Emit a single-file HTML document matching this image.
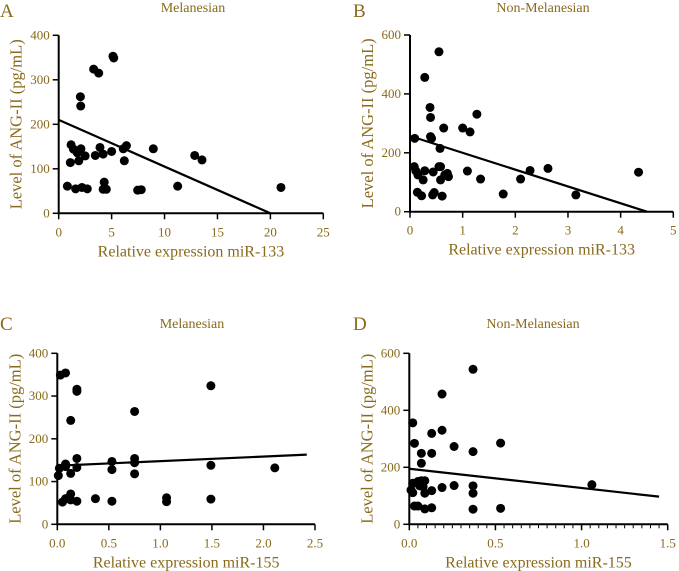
<!DOCTYPE html>
<html><head><meta charset="utf-8"><style>
body{margin:0;background:#fff}
svg{display:block}
text{font-family:"Liberation Serif",serif;fill:#8a6a1c}
</style></head><body>
<svg id="fig" width="679" height="571"></svg>
<script>
// Panel A data (miR-133, Melanesian)
const aX=[0.82,1.17,1.1,1.4,1.6,1.76,1.9,2.05,2.08,2.1,2.2,2.5,2.7,3.3,3.46,3.78,3.9,4.2,4.3,4.2,4.5,5.0,5.13,5.2,6.1,6.2,6.4,7.46,7.8,8.94,11.24,12.85,13.54,21];
const aY=[61,154,114,144,55,136,118,262,241,145,58,129,55,324,130,315,148,133,70,54,54,139,353,349,145,118,152,52,53,145,61,130,120,58];
const aFit=[210,0];
// Panel B data (miR-133, Non-Melanesian)
const bX=[0.09,0.08,0.11,0.15,0.14,0.22,0.25,0.28,0.28,0.38,0.39,0.39,0.41,0.44,0.43,0.46,0.55,0.57,0.58,0.55,0.58,0.61,0.64,0.66,0.71,0.73,1.0,1.09,1.14,1.27,1.34,1.77,2.1,2.28,2.62,3.15,4.34];
const bY=[249,153,139,125,66,54,108,139,456,354,320,255,249,135,57,65,543,215,153,153,108,53,284,125,130,119,284,138,271,331,111,60,111,140,147,57,134];
const bFit=[257,0];
// Panel C data (miR-155, Melanesian)
const cX=[0.03,0.08,0.01,0.02,0.05,0.08,0.08,0.08,0.13,0.13,0.13,0.13,0.19,0.19,0.19,0.19,0.19,0.37,0.53,0.53,0.53,0.75,0.75,0.75,0.75,1.06,1.06,1.49,1.49,1.49,2.11];
const cY=[349,354,114,131,52,141,135,60,243,119,71,57,316,311,154,133,54,60,147,128,54,264,154,144,118,62,53,324,138,59,132];
const cFit=[137,163];
// Panel D data (miR-155, Non-Melanesian)
const dX=[0.02,0.03,0.07,0.07,0.01,0.02,0.02,0.03,0.05,0.05,0.06,0.07,0.08,0.09,0.09,0.09,0.13,0.13,0.13,0.13,0.19,0.19,0.19,0.26,0.26,0.37,0.37,0.37,0.37,0.37,0.53,0.53,1.06];
const dY=[356,284,249,214,120,111,144,64,64,150,135,153,132,153,109,54,249,319,118,58,457,330,129,273,136,544,255,135,109,53,285,56,139];
const dFit=[195,97];
// Tick labels
const aXTicks=["0","5","10","15","20","25"];
const bXTicks=["0","1","2","3","4","5"];
const cXTicks=["0.0","0.5","1.0","1.5","2.0","2.5"];
const dXTicks=["0.0","0.5","1.0","1.5"];
const y400Ticks=["0","100","200","300","400"];
const y600Ticks=["0","200","400","600"];

const NS="http://www.w3.org/2000/svg";
const svg=document.getElementById('fig');
function el(tag,attrs,parent){const e=document.createElementNS(NS,tag);for(const k in attrs)e.setAttribute(k,attrs[k]);(parent||svg).appendChild(e);return e;}

const panels=[
 {id:'a',letter:'A',title:'Melanesian',xt:'Relative expression miR-133',x0:58.7,x1:323.3,xmax:25,xmin:0,y0:213.3,y1:35.3,ymax:400,xs:aX,ys:aY,fit:aFit,fitX:[0,20],xTicks:aXTicks,yTicks:y400Ticks,minor:0,lx:0,ly:17,ty:12,tx:193},
 {id:'b',letter:'B',title:'Non-Melanesian',xt:'Relative expression miR-133',x0:410,x1:673.3,xmax:5,xmin:0,y0:211.7,y1:35,ymax:600,xs:bX,ys:bY,fit:bFit,fitX:[0,4.5],xTicks:bXTicks,yTicks:y600Ticks,minor:0,lx:353,ly:17,ty:12,tx:543},
 {id:'c',letter:'C',title:'Melanesian',xt:'Relative expression miR-155',x0:57.3,x1:315,xmax:2.5,xmin:0,y0:524.3,y1:353.3,ymax:400,xs:cX,ys:cY,fit:cFit,fitX:[0,2.42],xTicks:cXTicks,yTicks:y400Ticks,minor:0,lx:0,ly:330,ty:328,tx:192},
 {id:'d',letter:'D',title:'Non-Melanesian',xt:'Relative expression miR-155',x0:409.3,x1:667.7,xmax:1.5,xmin:0,y0:524.3,y1:353.3,ymax:600,xs:dX,ys:dY,fit:dFit,fitX:[0,1.45],xTicks:dXTicks,yTicks:y600Ticks,minor:30,lx:353,ly:330,ty:328,tx:533}
];

panels.forEach(p=>{
 const g=el('g',{});
 
 
 const sx=v=>p.x0+(v-p.xmin)/(p.xmax-p.xmin)*(p.x1-p.x0);
 const sy=v=>p.y0-v/p.ymax*(p.y0-p.y1);
 const L=el('text',{x:p.lx,y:p.ly,'font-size':19},g);L.textContent=p.letter;
 
 
 const T=el('text',{x:p.tx,y:p.ty,'font-size':14,'text-anchor':'middle'},g);T.textContent=p.title;
 
 
 const ax=el('path',{d:`M${p.x0},${p.y1}V${p.y0}H${p.x1}`,stroke:'#000','stroke-width':2,fill:'none'},g);
 
 
 const nX=p.xTicks.length-1;
 p.xTicks.forEach((t,i)=>{
  const v=p.xmin+i*(p.xmax-p.xmin)/nX, x=sx(v);
  el('line',{x1:x,x2:x,y1:p.y0,y2:p.y0+6,stroke:'#000','stroke-width':1.5},g);
  const tt=el('text',{x:x,y:p.y0+23,'font-size':13,'text-anchor':'middle'},g);tt.textContent=t;
  
  
 });
 if(p.minor){for(let i=1;i<p.minor;i++){const x=p.x0+i*(p.x1-p.x0)/p.minor;el('line',{x1:x,x2:x,y1:p.y0,y2:p.y0+4,stroke:'#000','stroke-width':1},g);}}
 const nY=p.yTicks.length-1;
 p.yTicks.forEach((t,i)=>{
  const y=sy(i*p.ymax/nY);
  el('line',{x1:p.x0-6,x2:p.x0,y1:y,y2:y,stroke:'#000','stroke-width':1.5},g);
  const tt=el('text',{x:p.x0-9,y:y+4,'font-size':13,'text-anchor':'end'},g);tt.textContent=t;
  
  
 });
 const xt=el('text',{x:(p.x0+p.x1)/2,y:p.y0+43,'font-size':16,'text-anchor':'middle'},g);xt.textContent=p.xt;
 
 
 const yc=(p.y0+p.y1)/2;
 const yt=el('text',{x:0,y:0,'font-size':16.5,'text-anchor':'middle',transform:`translate(${p.x0-37},${yc}) rotate(-90)`},g);yt.textContent='Level of ANG-II (pg/mL)';
 
 
 p.xs.forEach((v,i)=>{
  const c=el('circle',{cx:sx(v),cy:sy(p.ys[i]),r:4.5,fill:'#000'},g);
  
  
 });
 const fl=el('line',{x1:sx(p.fitX[0]),y1:sy(p.fit[0]),x2:sx(p.fitX[1]),y2:sy(p.fit[1]),stroke:'#000','stroke-width':2.2},g);
 
 
});
</script>
</body></html>
